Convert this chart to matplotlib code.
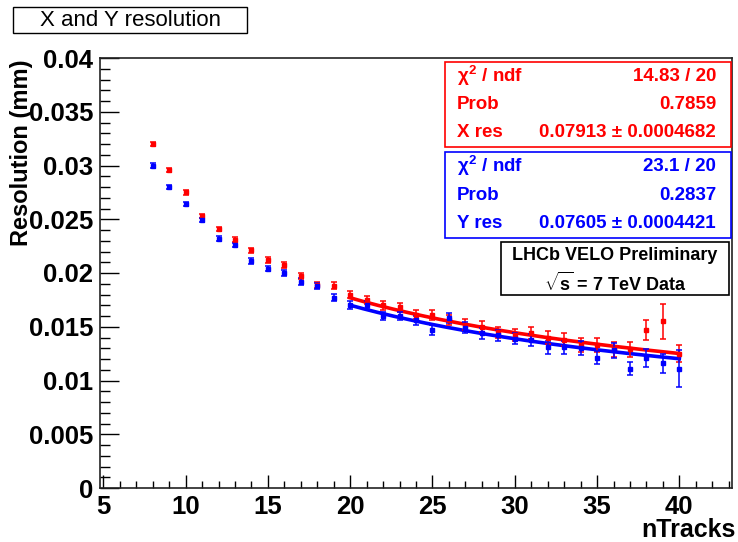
import numpy as np
import matplotlib
matplotlib.use("Agg")
import matplotlib.pyplot as plt
from matplotlib.patches import Rectangle
from matplotlib.ticker import MultipleLocator, FuncFormatter

plt.rcParams['font.family'] = ['Liberation Sans', 'DejaVu Sans']
plt.rcParams['mathtext.fontset'] = 'custom'
plt.rcParams['mathtext.rm'] = 'Liberation Sans:bold'
plt.rcParams['mathtext.bf'] = 'Liberation Sans:bold'
plt.rcParams['mathtext.it'] = 'Liberation Sans:bold'

# --- data ---
ntracks = list(range(8, 41))
x_res = [0.0320, 0.0296, 0.0275, 0.0253, 0.0241, 0.0231, 0.0221, 0.0212, 0.0207, 0.0197,
         0.0189, 0.0188, 0.0180, 0.0175, 0.0170, 0.0168, 0.0161, 0.0161, 0.0156, 0.0152,
         0.0150, 0.0145, 0.0142, 0.0144, 0.0140, 0.0138, 0.0133, 0.0133, 0.0129, 0.0129,
         0.0147, 0.0155, 0.0125]
x_err = [0.0002, 0.0002, 0.0002, 0.0002, 0.00022, 0.00022, 0.00025, 0.00025, 0.00028, 0.0003,
         0.0003, 0.00032, 0.00035, 0.00038, 0.0004, 0.0004, 0.00042, 0.00045, 0.00045, 0.0005,
         0.0005, 0.00052, 0.00055, 0.00055, 0.0006, 0.0006, 0.00065, 0.00065, 0.0007, 0.0007,
         0.0009, 0.0016, 0.0008]
y_res = [0.0300, 0.0280, 0.0264, 0.0249, 0.0232, 0.0226, 0.0211, 0.0204, 0.0200, 0.0192,
         0.0188, 0.0177, 0.0170, 0.0170, 0.0160, 0.0160, 0.0156, 0.0147, 0.0158, 0.0149,
         0.0144, 0.0142, 0.0139, 0.0138, 0.0131, 0.0131, 0.0130, 0.0121, 0.0128, 0.0111,
         0.0121, 0.0116, 0.0111]
y_err = [0.0002, 0.0002, 0.0002, 0.0002, 0.00022, 0.00022, 0.00025, 0.00025, 0.00028, 0.0003,
         0.0003, 0.00032, 0.00035, 0.00038, 0.0004, 0.0004, 0.00042, 0.00045, 0.00045, 0.0005,
         0.0005, 0.00052, 0.00055, 0.00055, 0.0006, 0.0006, 0.00065, 0.0006, 0.0007, 0.0006,
         0.0008, 0.0009, 0.0017]

# fit results (p0 / sqrt(nTracks), fitted on 20..40)
fit_range = (20, 40)
x_fit = {"par": 0.07913, "err": 0.0004682, "chi2": "14.83 / 20", "prob": "0.7859"}
y_fit = {"par": 0.07605, "err": 0.0004421, "chi2": "23.1 / 20", "prob": "0.2837"}

W, H = 738, 542
fig = plt.figure(figsize=(W / 100, H / 100), dpi=100)

def fx(px):
    return px / W

def fy(py):
    return 1 - py / H

ax = fig.add_axes([fx(100), fy(488), fx(732) - fx(100), fy(58) - fy(488)])

RED, BLUE = "#ff0000", "#0000ff"
n = np.array(ntracks)
xf = np.linspace(fit_range[0], fit_range[1], 200)

for res, err, fit, col in [(x_res, x_err, x_fit, RED), (y_res, y_err, y_fit, BLUE)]:
    ax.errorbar(n, res, yerr=err, fmt="s", color=col, ms=3.3, capsize=2.5,
                elinewidth=1.1, capthick=1.1, zorder=3)
    ax.plot(xf, fit["par"] / np.sqrt(xf), color=col, lw=2.6, zorder=2)

# ROOT TGraph default range: 10% margin around 8..40
ax.set_xlim(4.8, 43.2)
ax.set_ylim(0, 0.04)
ax.xaxis.set_major_locator(MultipleLocator(5))
ax.xaxis.set_minor_locator(MultipleLocator(1))
ax.yaxis.set_major_locator(MultipleLocator(0.005))
ax.yaxis.set_minor_locator(MultipleLocator(0.001))
ax.yaxis.set_major_formatter(FuncFormatter(lambda v, p: "%g" % round(v, 4)))

ax.tick_params(axis="both", which="both", direction="in", top=False, right=False,
               labelsize=18.5, width=1)
ax.tick_params(axis="y", which="major", length=13.5, pad=5)
ax.tick_params(axis="y", which="minor", length=7)
ax.tick_params(axis="x", which="major", length=9.5, pad=5)
ax.tick_params(axis="x", which="minor", length=5)
for lab in ax.get_xticklabels() + ax.get_yticklabels():
    lab.set_fontweight("bold")
for s in ax.spines.values():
    s.set_linewidth(1.2)
    s.set_color("#222222")

fig.text(fx(22), fy(153), "Resolution (mm)", rotation=90, ha="center", va="center",
         fontsize=17, fontweight="bold")
fig.text(fx(736), fy(530), "nTracks", ha="right", va="center",
         fontsize=18, fontweight="bold")

# title box
fig.patches.append(Rectangle((fx(13), fy(33)), fx(247) - fx(13), fy(7) - fy(33),
                             transform=fig.transFigure, fill=True, facecolor="white",
                             edgecolor="black", lw=1))
fig.text(fx(130), fy(20), "X and Y resolution", ha="center", va="center", fontsize=16)

def box(x0, y0, x1, y1, col):
    fig.patches.append(Rectangle((fx(x0), fy(y1)), fx(x1) - fx(x0), fy(y0) - fy(y1),
                                 transform=fig.transFigure, facecolor="white",
                                 edgecolor=col, lw=1.2, zorder=5))

# stat boxes
stat_boxes = [(x_fit, RED, 62, 147, "X res"), (y_fit, BLUE, 152, 238, "Y res")]
for fit, col, top, bot, name in stat_boxes:
    box(445, top, 731, bot, col)
    rows = [(r"$\chi^{2}$ / ndf", fit["chi2"]),
            ("Prob", fit["prob"]),
            (name, "%.5f \u00b1 %.7f" % (fit["par"], fit["err"]))]
    step = (bot - top) / 3
    for i, (lab, val) in enumerate(rows):
        yy = top + step * (i + 0.5)
        fig.text(fx(457), fy(yy), lab, ha="left", va="center", fontsize=13.5,
                 fontweight="bold", color=col, zorder=6)
        fig.text(fx(716), fy(yy), val, ha="right", va="center", fontsize=13.5,
                 fontweight="bold", color=col, zorder=6)

box(501, 242, 729, 295, "black")
fig.text(fx(615), fy(255), "LHCb VELO Preliminary", ha="center", va="center",
         fontsize=13, fontweight="bold", zorder=6)
fig.text(fx(615), fy(283), r"$\sqrt{\mathrm{s}}$ = 7 TeV Data", ha="center", va="center",
         fontsize=13, fontweight="bold", zorder=6)

fig.savefig("out.png", dpi=100)
